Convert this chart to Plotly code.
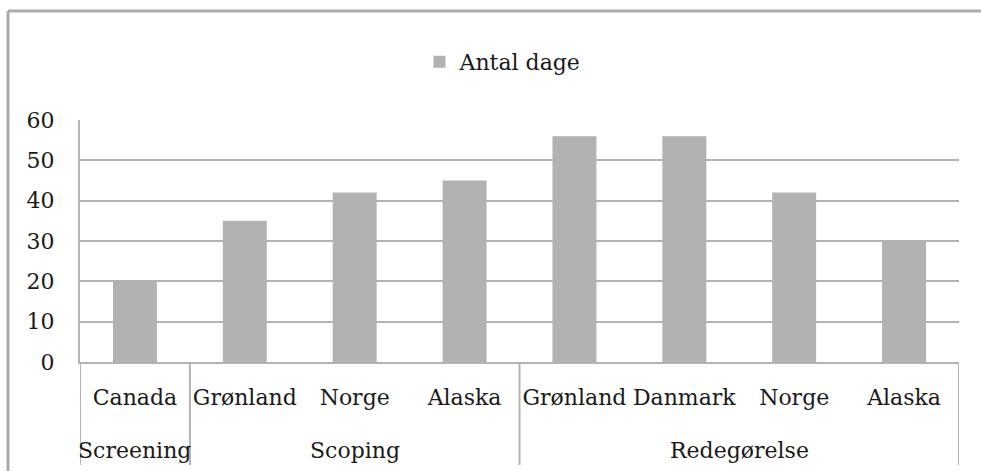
import plotly.graph_objects as go

phases = ["Screening", "Scoping", "Scoping", "Scoping",
          "Redegørelse", "Redegørelse", "Redegørelse", "Redegørelse"]
countries = ["Canada", "Grønland", "Norge", "Alaska",
             "Grønland", "Danmark", "Norge", "Alaska"]
days = [20, 35, 42, 45, 56, 56, 42, 30]
series_name = "Antal dage"
y_ticks = [0, 10, 20, 30, 40, 50, 60]

W, H = 981, 471
ML, MR, MT, MB = 80, 22, 120, 109
pw, ph = W - ML - MR, H - MT - MB

def px_x(p):
    return (p - ML) / pw

def px_y(p):
    return (H - MB - p) / ph

FONT = "DejaVu Serif"
GRID = "#b3b3b3"
TXT = "#1a1a1a"

positions = list(range(len(countries)))

# group spans (first and last index of each phase)
groups = []
for i, p in enumerate(phases):
    if groups and groups[-1][0] == p:
        groups[-1][2] = i
    else:
        groups.append([p, i, i])

fig = go.Figure()
fig.add_trace(go.Bar(
    x=positions, y=days, name=series_name,
    marker=dict(color="#b2b2b2", line=dict(width=0)),
    showlegend=True, hoverinfo="y",
))

shapes = [
    dict(type="line", xref="paper", yref="paper",
         x0=px_x(8), x1=px_x(W), y0=px_y(11), y1=px_y(11),
         line=dict(color="#ababab", width=3)),
    dict(type="line", xref="paper", yref="paper",
         x0=px_x(8), x1=px_x(8), y0=px_y(11), y1=px_y(H),
         line=dict(color="#ababab", width=3)),
]
annotations = []
bounds = [g[1] - 0.5 for g in groups] + [groups[-1][2] + 0.5]
for b in bounds:
    shapes.append(dict(type="line", xref="x", yref="paper",
                       x0=b, x1=b, y0=0, y1=px_y(465),
                       line=dict(color=GRID, width=2)))
for name, a, b in groups:
    annotations.append(dict(x=(a + b) / 2, xref="x", y=px_y(450), yref="paper",
                            text=name, showarrow=False, xanchor="center",
                            yanchor="middle",
                            font=dict(family=FONT, size=22, color=TXT)))

fig.update_layout(
    width=W, height=H,
    margin=dict(l=ML, r=MR, t=MT, b=MB, pad=0),
    paper_bgcolor="white", plot_bgcolor="white",
    font=dict(family=FONT, size=22, color=TXT),
    bargap=0.6,
    showlegend=True,
    legend=dict(orientation="h", x=px_x(503), xanchor="center",
                y=px_y(62), yanchor="middle",
                font=dict(family=FONT, size=22, color=TXT),
                bgcolor="rgba(0,0,0,0)"),
    xaxis=dict(range=[-0.5, len(countries) - 0.5], tickvals=positions,
               ticktext=countries, showgrid=False, automargin=False,
               tickangle=0, zeroline=False,
               showline=True, linecolor=GRID, linewidth=2,
               ticks="", ticklabelstandoff=15,
               tickfont=dict(family=FONT, size=22, color=TXT)),
    yaxis=dict(range=[0, 60], tickvals=y_ticks, showgrid=True, automargin=False,
               gridcolor=GRID, gridwidth=2, zeroline=False,
               showline=True, linecolor=GRID, linewidth=2,
               ticks="", ticklabelstandoff=19,
               tickfont=dict(family=FONT, size=22, color=TXT)),
    shapes=shapes,
    annotations=annotations,
)

fig.write_html("out.html", config={"displayModeBar": False},
               post_script="document.body.style.margin='0';")
